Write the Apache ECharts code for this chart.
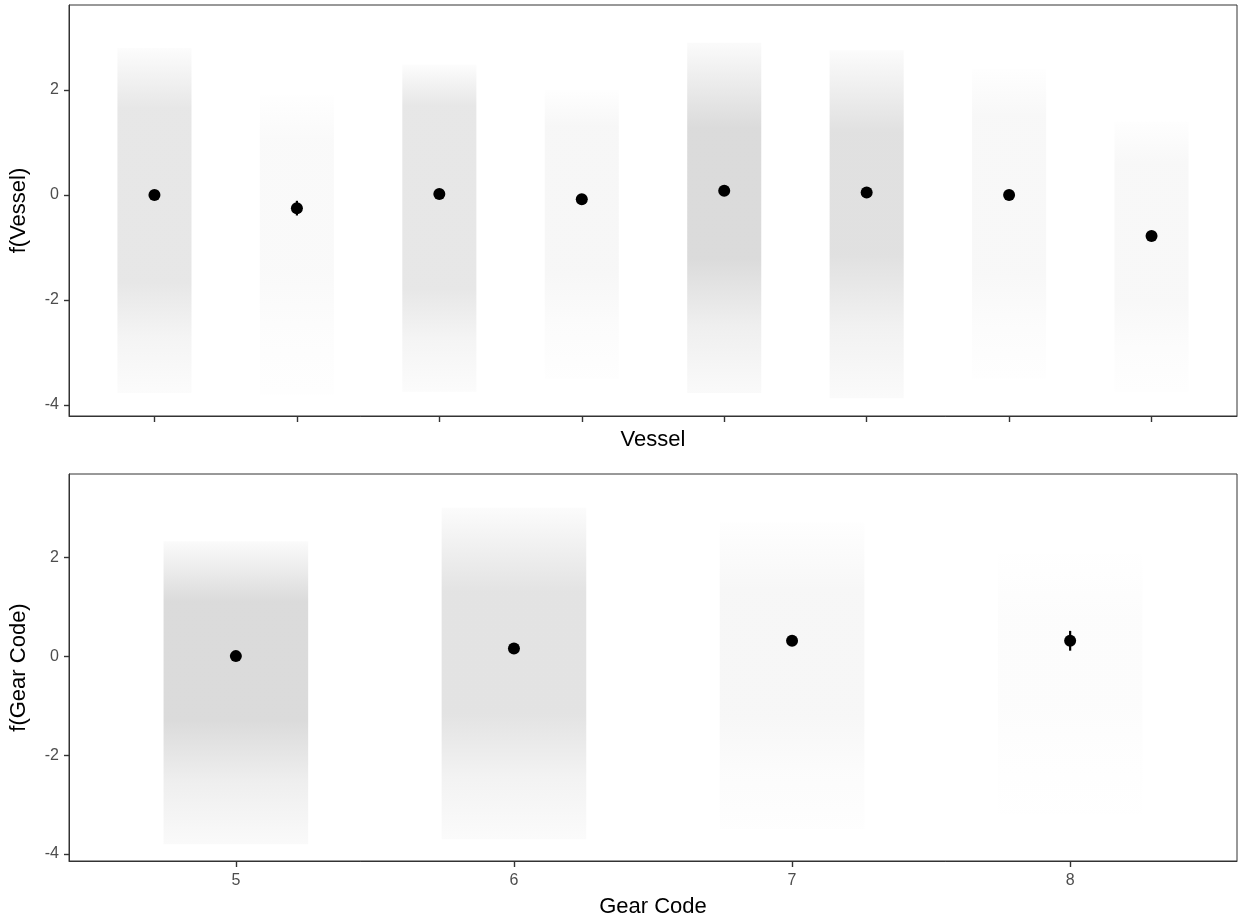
<!DOCTYPE html>
<html>
<head>
<meta charset="utf-8">
<script src="https://cdn.jsdelivr.net/npm/echarts@6/dist/echarts.min.js"></script>
<style>
  html, body { margin: 0; padding: 0; background: #fff; }
  #chart { width: 1238px; height: 922px; }
</style>
</head>
<body>
<div id="chart"></div>
<script>
// ---------- Data ----------
// Top panel: Vessel (8 levels, no tick labels shown)
const vesselPos = [1, 2, 3, 4, 5, 6, 7, 8];
const vesselEst = [0.00, -0.25, 0.02, -0.08, 0.08, 0.05, 0.00, -0.78];
const vesselLower = [-0.02, -0.39, -0.02, -0.13, 0.04, 0.01, -0.05, -0.86];
const vesselUpper = [0.02, -0.11, 0.06, -0.03, 0.12, 0.09, 0.05, -0.70];
// Partial-residual clouds: extent and dense core of each level
const vesselCloudTop    = [2.80, 1.90, 2.48, 2.00, 2.90, 2.76, 2.40, 1.40];
const vesselCloudCoreHi = [1.65, 1.00, 1.70, 1.30, 1.28, 1.20, 1.50, 0.60];
const vesselCloudCoreLo = [-1.66, -1.50, -1.77, -1.50, -1.20, -1.14, -1.50, -2.00];
const vesselCloudBottom = [-3.77, -3.80, -3.75, -3.50, -3.77, -3.87, -3.50, -3.75];
const vesselCloudDensity = [0.30, 0.07, 0.30, 0.10, 0.45, 0.38, 0.09, 0.09];

// Bottom panel: Gear Code
const gearLabels = ['5', '6', '7', '8'];
const gearPos = [5, 6, 7, 8];
const gearEst = [0.00, 0.155, 0.31, 0.31];
const gearLower = [0.00, 0.125, 0.25, 0.11];
const gearUpper = [0.00, 0.185, 0.37, 0.51];
const gearCloudTop    = [2.32, 3.00, 2.70, 2.07];
const gearCloudCoreHi = [1.10, 1.30, 1.30, 0.80];
const gearCloudCoreLo = [-1.30, -1.17, -1.20, -1.00];
const gearCloudBottom = [-3.80, -3.70, -3.50, -3.20];
const gearCloudDensity = [0.45, 0.35, 0.10, 0.035];

const vesselTicksY = [-4, -2, 0, 2];
const gearTicksY = [-4, -2, 0, 2];

// ---------- Build series data ----------
function cloudData(pos, top, hi, lo, bot, dens) {
  return pos.map((p, i) => [p, top[i], hi[i], lo[i], bot[i], dens[i]]);
}
function errData(pos, lower, upper) {
  return pos.map((p, i) => [p, lower[i], upper[i]]);
}
const JIT = 0.26;

function renderCloud(params, api) {
  const x = api.value(0);
  const top = api.value(1), hi = api.value(2), lo = api.value(3), bot = api.value(4), d = api.value(5);
  const p1 = api.coord([x - JIT, top]);
  const p2 = api.coord([x + JIT, bot]);
  const yHi = api.coord([x, hi])[1];
  const yLo = api.coord([x, lo])[1];
  const h = p2[1] - p1[1];
  const yShoulder = (yLo + p2[1]) / 2;
  const c = a => 'rgba(175,175,175,' + a.toFixed(3) + ')';
  const clamp = v => Math.max(0, Math.min(1, v));
  const stops = [
    { offset: 0, color: c(d * 0.12) },
    { offset: clamp((yHi - p1[1]) / h), color: c(d) },
    { offset: clamp((yLo - p1[1]) / h), color: c(d) },
    { offset: clamp((yShoulder - p1[1]) / h), color: c(d * 0.45) },
    { offset: 1, color: c(d * 0.15) }
  ];
  return {
    type: 'rect',
    shape: { x: p1[0], y: p1[1], width: p2[0] - p1[0], height: h },
    style: { fill: new echarts.graphic.LinearGradient(0, 0, 0, 1, stops) },
    silent: true
  };
}
function renderErr(params, api) {
  const x = api.value(0);
  const a = api.coord([x, api.value(1)]);
  const b = api.coord([x, api.value(2)]);
  return {
    type: 'line',
    shape: { x1: a[0], y1: a[1], x2: b[0], y2: b[1] },
    style: { stroke: '#000', lineWidth: 2.2 },
    silent: true
  };
}

const chart = echarts.init(document.getElementById('chart'), null, { renderer: 'canvas' });

const FONT = 'Liberation Sans, Arial, sans-serif';
const axisLineStyle = { color: '#333333', width: 1 };
const tickStyle = { color: '#333333', width: 1.4 };
const labelStyle = { color: '#4d4d4d', fontSize: 16, fontFamily: FONT };
const titleStyle = { color: '#000000', fontSize: 22, fontFamily: FONT };

const option = {
  backgroundColor: '#ffffff',
  animation: false,
  grid: [
    { left: 68, top: 5, width: 1169, height: 411, show: true, borderColor: '#333333', borderWidth: 1, backgroundColor: 'transparent' },
    { left: 68, top: 474, width: 1169, height: 387, show: true, borderColor: '#333333', borderWidth: 1, backgroundColor: 'transparent' }
  ],
  xAxis: [
    {
      gridIndex: 0, type: 'value', min: 0.4, max: 8.6,
      name: 'Vessel', nameLocation: 'middle', nameGap: 13, nameTextStyle: titleStyle,
      axisLine: { show: true, onZero: false, lineStyle: axisLineStyle },
      axisTick: { show: true, length: 6, lineStyle: tickStyle, customValues: vesselPos },
      axisLabel: { show: false, customValues: vesselPos },
      splitLine: { show: false }
    },
    {
      gridIndex: 1, type: 'value', min: 4.4, max: 8.6,
      name: 'Gear Code', nameLocation: 'middle', nameGap: 35, nameTextStyle: titleStyle,
      axisLine: { show: true, onZero: false, lineStyle: axisLineStyle },
      axisTick: { show: true, length: 6, lineStyle: tickStyle, customValues: gearPos },
      axisLabel: Object.assign({ show: true, margin: 12, customValues: gearPos,
        formatter: v => gearLabels[gearPos.indexOf(Math.round(v))] || '' }, labelStyle),
      splitLine: { show: false }
    }
  ],
  yAxis: [
    {
      gridIndex: 0, type: 'value', min: -4.21, max: 3.62,
      name: 'f(Vessel)', nameLocation: 'middle', nameGap: 39, nameRotate: 90, nameTextStyle: titleStyle,
      axisLine: { show: true, onZero: false, lineStyle: axisLineStyle },
      axisTick: { show: true, length: 5, lineStyle: tickStyle, customValues: vesselTicksY },
      axisLabel: Object.assign({ show: true, margin: 10, customValues: vesselTicksY }, labelStyle),
      splitLine: { show: false }
    },
    {
      gridIndex: 1, type: 'value', min: -4.14, max: 3.68,
      name: 'f(Gear Code)', nameLocation: 'middle', nameGap: 39, nameRotate: 90, nameTextStyle: titleStyle,
      axisLine: { show: true, onZero: false, lineStyle: axisLineStyle },
      axisTick: { show: true, length: 5, lineStyle: tickStyle, customValues: gearTicksY },
      axisLabel: Object.assign({ show: true, margin: 10, customValues: gearTicksY }, labelStyle),
      splitLine: { show: false }
    }
  ],
  series: [
    { type: 'custom', xAxisIndex: 0, yAxisIndex: 0, renderItem: renderCloud,
      data: cloudData(vesselPos, vesselCloudTop, vesselCloudCoreHi, vesselCloudCoreLo, vesselCloudBottom, vesselCloudDensity),
      encode: { x: 0, y: [1, 4] }, z: 1 },
    { type: 'custom', xAxisIndex: 1, yAxisIndex: 1, renderItem: renderCloud,
      data: cloudData(gearPos, gearCloudTop, gearCloudCoreHi, gearCloudCoreLo, gearCloudBottom, gearCloudDensity),
      encode: { x: 0, y: [1, 4] }, z: 1 },
    { type: 'custom', xAxisIndex: 0, yAxisIndex: 0, renderItem: renderErr,
      data: errData(vesselPos, vesselLower, vesselUpper), encode: { x: 0, y: [1, 2] }, z: 3 },
    { type: 'custom', xAxisIndex: 1, yAxisIndex: 1, renderItem: renderErr,
      data: errData(gearPos, gearLower, gearUpper), encode: { x: 0, y: [1, 2] }, z: 3 },
    { type: 'scatter', xAxisIndex: 0, yAxisIndex: 0, symbol: 'circle', symbolSize: 12,
      itemStyle: { color: '#000000', opacity: 1 }, data: vesselPos.map((p, i) => [p, vesselEst[i]]), z: 4 },
    { type: 'scatter', xAxisIndex: 1, yAxisIndex: 1, symbol: 'circle', symbolSize: 12,
      itemStyle: { color: '#000000', opacity: 1 }, data: gearPos.map((p, i) => [p, gearEst[i]]), z: 4 }
  ]
};
chart.setOption(option);
</script>
</body>
</html>
